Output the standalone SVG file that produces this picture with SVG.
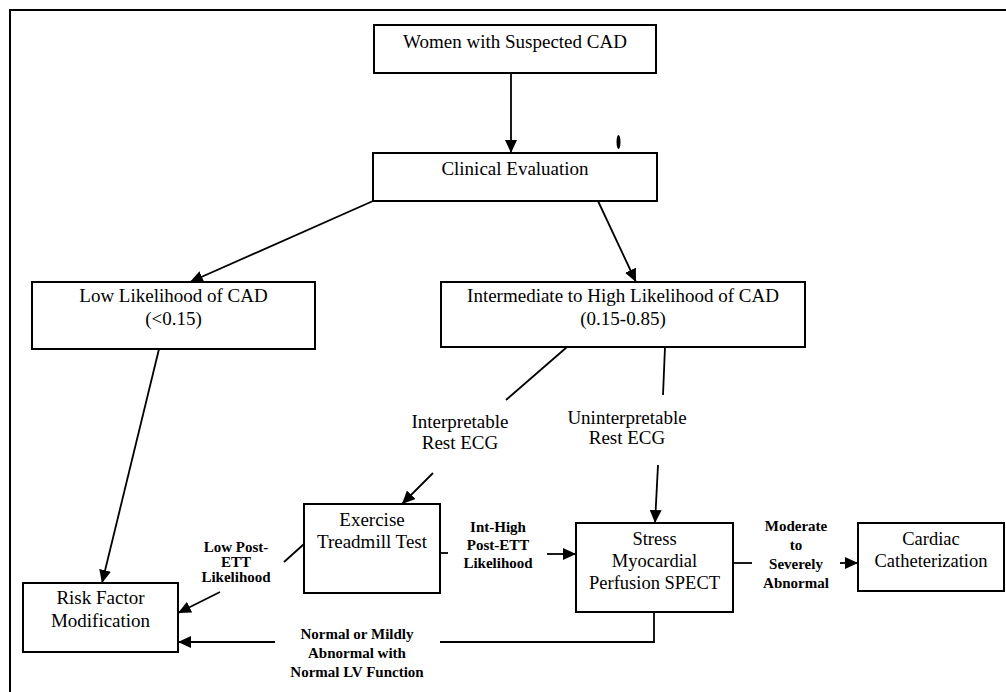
<svg xmlns="http://www.w3.org/2000/svg" width="1006" height="692" viewBox="0 0 1006 692">
  <style>
    .box { fill: #ffffff; stroke: #000000; stroke-width: 2; }
    .ln { fill: none; stroke: #000000; stroke-width: 1.8; }
    .nt { font-family: "Liberation Serif", "Times New Roman", serif; font-size: 19px; fill: #000000; text-anchor: middle; }
    .nb { font-family: "Liberation Serif", "Times New Roman", serif; font-size: 18.5px; fill: #000000; text-anchor: middle; }
    .lb { font-family: "Liberation Serif", "Times New Roman", serif; font-size: 15px; font-weight: bold; fill: #000000; text-anchor: middle; }
    .frame { fill: none; stroke: #000000; stroke-width: 2; }
  </style>
  <defs>
    <marker id="ah" markerUnits="userSpaceOnUse" markerWidth="14" markerHeight="12" refX="13" refY="6" orient="auto">
      <path d="M0,0 L13,6 L0,12 Z" fill="#000000"/>
    </marker>
  </defs>
  <rect x="0" y="0" width="1006" height="692" fill="#ffffff"/>
  <path class="frame" d="M10,692 V10 H1006"/>
  <ellipse cx="618.5" cy="142" rx="2" ry="7" fill="#000000"/>

  <g id="connectors">
    <line class="ln" x1="511" y1="73" x2="511" y2="153" marker-end="url(#ah)"/>
    <line class="ln" x1="373" y1="201" x2="190" y2="282" marker-end="url(#ah)"/>
    <line class="ln" x1="598" y1="201" x2="636" y2="282" marker-end="url(#ah)"/>
    <line class="ln" x1="159" y1="349" x2="102" y2="583" marker-end="url(#ah)"/>
    <line class="ln" x1="567" y1="347" x2="506" y2="400"/>
    <line class="ln" x1="665" y1="347" x2="663" y2="395"/>
    <line class="ln" x1="433" y1="473" x2="402" y2="504" marker-end="url(#ah)"/>
    <line class="ln" x1="658" y1="465" x2="655" y2="523" marker-end="url(#ah)"/>
    <line class="ln" x1="304" y1="544" x2="284" y2="562"/>
    <line class="ln" x1="220" y1="592" x2="178" y2="613" marker-end="url(#ah)"/>
    <line class="ln" x1="440" y1="553" x2="448" y2="553"/>
    <line class="ln" x1="547" y1="554" x2="576" y2="554" marker-end="url(#ah)"/>
    <line class="ln" x1="733" y1="563" x2="752" y2="563"/>
    <line class="ln" x1="840" y1="563" x2="858" y2="563" marker-end="url(#ah)"/>
    <polyline class="ln" points="654,612 654,642 440,642"/>
    <line class="ln" x1="275" y1="642" x2="178" y2="642" marker-end="url(#ah)"/>
    <text class="nt" x="460" y="428">Interpretable</text>
    <text class="nt" x="460" y="449">Rest ECG</text>
    <text class="nt" x="627" y="424">Uninterpretable</text>
    <text class="nt" x="627" y="444">Rest ECG</text>
    <text class="lb" x="236" y="552">Low Post-</text>
    <text class="lb" x="236" y="567">ETT</text>
    <text class="lb" x="236" y="582">Likelihood</text>
    <text class="lb" x="498" y="532">Int-High</text>
    <text class="lb" x="498" y="550">Post-ETT</text>
    <text class="lb" x="498" y="568">Likelihood</text>
    <text class="lb" x="796" y="531">Moderate</text>
    <text class="lb" x="796" y="550">to</text>
    <text class="lb" x="796" y="569">Severely</text>
    <text class="lb" x="796" y="588">Abnormal</text>
    <text class="lb" x="357" y="639">Normal or Mildly</text>
    <text class="lb" x="357" y="658">Abnormal with</text>
    <text class="lb" x="357" y="677">Normal LV Function</text>
  </g>

  <g id="women">
    <rect class="box" x="374" y="25" width="282" height="48"/>
    <text class="nt" x="515" y="48">Women with Suspected CAD</text>
  </g>
  <g id="clinical">
    <rect class="box" x="373" y="153" width="284" height="48"/>
    <text class="nt" x="515" y="175">Clinical Evaluation</text>
  </g>
  <g id="low">
    <rect class="box" x="32" y="282" width="283" height="67"/>
    <text class="nt" x="173.5" y="302">Low Likelihood of CAD</text>
    <text class="nt" x="173.5" y="325">(&lt;0.15)</text>
  </g>
  <g id="intermediate">
    <rect class="box" x="441" y="282" width="364" height="65"/>
    <text class="nt" x="623" y="302">Intermediate to High Likelihood of CAD</text>
    <text class="nt" x="623" y="325">(0.15-0.85)</text>
  </g>
  <g id="ett">
    <rect class="box" x="304" y="504" width="136" height="89"/>
    <text class="nt" x="372" y="526">Exercise</text>
    <text class="nt" x="372" y="548">Treadmill Test</text>
  </g>
  <g id="risk">
    <rect class="box" x="23" y="583" width="155" height="69"/>
    <text class="nt" x="100.5" y="604">Risk Factor</text>
    <text class="nt" x="100.5" y="627">Modification</text>
  </g>
  <g id="spect">
    <rect class="box" x="576" y="523" width="157" height="89"/>
    <text class="nb" x="654.5" y="545">Stress</text>
    <text class="nb" x="654.5" y="567">Myocardial</text>
    <text class="nb" x="654.5" y="589">Perfusion SPECT</text>
  </g>
  <g id="cath">
    <rect class="box" x="858" y="523" width="146" height="68"/>
    <text class="nb" x="931" y="545">Cardiac</text>
    <text class="nb" x="931" y="567">Catheterization</text>
  </g>
</svg>
